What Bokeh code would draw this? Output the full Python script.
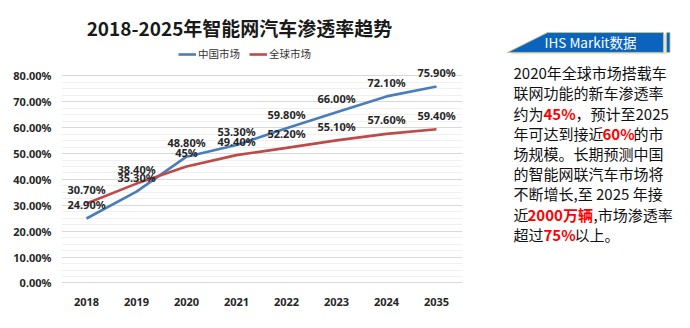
from bokeh.plotting import figure
from bokeh.models import (Range1d, FixedTicker, Label, Legend, LegendItem,
                          ColumnDataSource, PrintfTickFormatter)
from bokeh.layouts import row
from bokeh.core.properties import value
from bokeh.embed import file_html
from bokeh.resources import INLINE

# ---------------- data ----------------
years = ["2018", "2019", "2020", "2021", "2022", "2023", "2024", "2035"]
china = [24.9, 35.3, 48.8, 53.3, 59.8, 66.0, 72.1, 75.9]
world = [30.7, 38.4, 45.0, 49.4, 52.2, 55.1, 57.6, 59.4]
china_labels = ["24.90%", "35.30%", "48.80%", "53.30%", "59.80%", "66.00%", "72.10%", "75.90%"]
world_labels = ["30.70%", "38.40%", "45%", "49.40%", "52.20%", "55.10%", "57.60%", "59.40%"]
y_ticks = [0, 10, 20, 30, 40, 50, 60, 70, 80]
y_minor = [2.5, 5, 7.5, 12.5, 15, 17.5, 22.5, 25, 27.5, 32.5, 35, 37.5, 42.5, 45, 47.5,
           52.5, 55, 57.5, 62.5, 65, 67.5, 72.5, 75, 77.5]
title_text = "2018-2025年智能网汽车渗透率趋势"
series_names = ["中国市场", "全球市场"]
banner_text = "IHS Markit数据"

# ---------------- layout helpers ----------------
CJK = "Noto Sans CJK SC"
LAT = "Noto Sans"
BLUE = "#4A7EBB"
RED = "#BE4B48"
LEFT_W, H = 465, 328
FRAME_L, FRAME_R, FRAME_H = 61, 462, 284
S = 2.5875          # px per percent
Y0 = -0.6

def px2x(px):
    return -0.5 + (px - FRAME_L) / 50.0

def py2y(py):
    return Y0 + (FRAME_H - py) / S

xs = list(range(len(years)))
src = ColumnDataSource(dict(x=xs, china=china, world=world,
                            cl=china_labels, wl=world_labels))

p = figure(width=LEFT_W, height=H, output_backend="svg", toolbar_location=None,
           x_range=Range1d(-0.5, -0.5 + (FRAME_R - FRAME_L) / 50.0),
           y_range=Range1d(Y0, Y0 + FRAME_H / S),
           min_border_left=FRAME_L, min_border_right=LEFT_W - FRAME_R,
           min_border_top=0, min_border_bottom=H - FRAME_H)
p.outline_line_color = None
p.background_fill_color = "white"
p.border_fill_color = "white"

yt = FixedTicker(ticks=y_ticks, minor_ticks=y_minor)
p.yaxis.ticker = yt
p.yaxis.formatter = PrintfTickFormatter(format="%.2f%%")
p.ygrid.ticker = yt
p.ygrid.grid_line_color = "#d9d9d9"
p.ygrid.grid_line_width = 1
p.ygrid.minor_grid_line_color = "#f0f0f0"
p.xgrid.visible = False

p.xaxis.ticker = FixedTicker(ticks=xs)
p.xaxis.major_label_overrides = {i: y for i, y in enumerate(years)}

for ax in (p.xaxis[0], p.yaxis[0]):
    ax.axis_line_color = None
    ax.major_tick_line_color = None
    ax.minor_tick_line_color = None
    ax.major_label_text_font = LAT
    ax.major_label_text_font_style = "bold"
    ax.major_label_text_font_size = "11px"
    ax.major_label_text_color = "#262626"
p.yaxis.major_label_standoff = 4
p.xaxis.major_label_standoff = 7

r1 = p.line("x", "china", source=src, line_color=BLUE, line_width=2.6)
r2 = p.line("x", "world", source=src, line_color=RED, line_width=2.6)

for col, ycol in (("cl", "china"), ("wl", "world")):
    p.text("x", ycol, text=col, source=src, y_offset=-14,
           text_align="center", text_baseline="middle",
           text_font=value(LAT), text_font_style="bold",
           text_font_size="11px", text_color="#262626")

p.add_layout(Label(x=px2x(239), y=py2y(27), text=title_text,
                   text_align="center", text_baseline="middle",
                   text_font=CJK, text_font_size="19px", text_font_style="bold",
                   text_color="#1a1a1a"))

legend = Legend(items=[LegendItem(label=series_names[0], renderers=[r1]),
                       LegendItem(label=series_names[1], renderers=[r2])],
                orientation="horizontal", location=(178 - FRAME_L, FRAME_H - 61),
                padding=0, margin=0, spacing=9, glyph_width=18, glyph_height=12,
                label_height=12, label_standoff=2, border_line_color=None,
                background_fill_alpha=0, label_text_font=CJK,
                label_text_font_size="10.5px", label_text_color="#333333")
p.add_layout(legend)

# ---------------- right panel ----------------
RW = 690 - LEFT_W
q = figure(width=RW, height=H, output_backend="svg", toolbar_location=None,
           x_range=Range1d(0, RW), y_range=Range1d(H, 0),
           x_axis_type=None, y_axis_type=None,
           min_border_left=0, min_border_right=0, min_border_top=0, min_border_bottom=0)
q.outline_line_color = None
q.xgrid.visible = False
q.ygrid.visible = False

OX = LEFT_W
# shadow + banner
q.patch([507 - OX + 2, 547 - OX + 2, 664 - OX + 2, 664 - OX + 2],
        [62, 39, 39, 62], fill_color="#cfcfcf", fill_alpha=0.6, line_color=None)
q.patch([507 - OX, 547 - OX, 663 - OX, 663 - OX], [60, 37, 37, 60],
        fill_color="#0A64BE", line_color="#b9c48f", line_width=1)
q.quad(left=[666 - OX], right=[669.5 - OX], top=[37], bottom=[60],
       fill_color="#0A64BE", line_color="#b9c48f", line_width=0.8)
q.text([590 - OX], [48.5], text=[banner_text], text_align="center",
       text_baseline="middle", text_font=value(CJK), text_font_size="13.5px",
       text_color="white")

LINE0, LSTEP = 83.3, 23.35
segments = [
    (0, 513, "2020年全球市场搭载车", False),
    (1, 513, "联网功能的新车渗透率", False),
    (2, 513, "约为", False), (2, 543, "45%", True), (2, 575, "，预计至2025", False),
    (3, 513, "年可达到接近", False), (3, 602, "60%", True), (3, 633, "的市", False),
    (4, 513, "场规模。长期预测中国", False),
    (5, 513, "的智能网联汽车市场将", False),
    (6, 513, "不断增长,至 2025 年接", False),
    (7, 513, "近", False), (7, 527, "2000万辆", True), (7, 593, ",市场渗透率", False),
    (8, 513, "超过", False), (8, 543, "75%", True), (8, 574, "以上。", False),
]
for red in (False, True):
    seg = [s for s in segments if s[3] == red]
    q.text([s[1] - OX for s in seg], [LINE0 + LSTEP * s[0] for s in seg],
           text=[s[2] for s in seg], text_align="left", text_baseline="middle",
           text_font=value(CJK), text_font_size="15px",
           text_font_style="bold" if red else "normal",
           text_color="#ff0000" if red else "#111111")

layout = row(p, q, spacing=0)
open("out.html", "w").write(file_html(layout, INLINE))
